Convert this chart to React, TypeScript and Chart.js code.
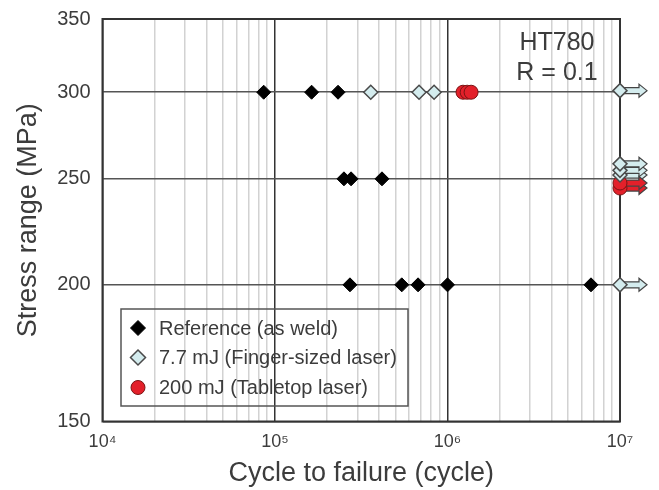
import React, { useEffect, useRef } from "react";
import { Chart, registerables } from "chart.js";

Chart.register(...registerables);

const FONT = "'Liberation Sans', Arial, Helvetica, sans-serif";
const TEXT_COLOR = "#3c3c3c";

// ---- axis ticks ----
const Y_TICKS = [150, 200, 250, 300, 350];
const X_DECADES = [1e4, 1e5, 1e6, 1e7];
const X_DECADE_LABELS = ["10⁴", "10⁵", "10⁶", "10⁷"];
const RUNOUT_LIMIT = 1e7;

// ---- series ----
const seriesLabels = [
  "Reference (as weld)",
  "7.7 mJ (Finger-sized laser)",
  "200 mJ (Tabletop laser)",
];

const refCycles = [8.6e4, 1.63e5, 2.32e5, 2.51e5, 2.76e5, 4.17e5, 2.72e5, 5.43e5, 6.75e5, 1.0e6, 6.79e6];
const refStress = [300, 300, 300, 250, 250, 250, 200, 200, 200, 200, 200];

const fingerCycles = [3.59e5, 6.84e5, 8.36e5, 1e7, 1e7, 1e7, 1e7, 1e7];
const fingerStress = [300, 300, 300, 301, 252, 254.5, 258, 200];

const tableCycles = [1.23e6, 1.3e6, 1.37e6, 1e7, 1e7];
const tableStress = [300, 300, 300, 245.2, 247.8];

const annotationLines = ["HT780", "R = 0.1"];

const toPoints = (xs: number[], ys: number[]) => xs.map((x, i) => ({ x, y: ys[i] }));

const isDecade = (v: number) => {
  const l = Math.log10(v);
  return Math.abs(l - Math.round(l)) < 1e-9;
};

function drawArrow(ctx: CanvasRenderingContext2D, x: number, y: number, fill: string) {
  ctx.beginPath();
  ctx.moveTo(x, y - 3);
  ctx.lineTo(x + 19, y - 3);
  ctx.lineTo(x + 19, y - 6.5);
  ctx.lineTo(x + 27, y);
  ctx.lineTo(x + 19, y + 6.5);
  ctx.lineTo(x + 19, y + 3);
  ctx.lineTo(x, y + 3);
  ctx.closePath();
  ctx.fillStyle = fill;
  ctx.fill();
  ctx.strokeStyle = "#444";
  ctx.lineWidth = 1.2;
  ctx.stroke();
}

function drawMarker(ctx: CanvasRenderingContext2D, style: string, x: number, y: number, r: number, fill: string, stroke: string, lw: number) {
  ctx.beginPath();
  if (style === "circle") {
    ctx.arc(x, y, r, 0, Math.PI * 2);
  } else {
    ctx.moveTo(x, y - r);
    ctx.lineTo(x + r, y);
    ctx.lineTo(x, y + r);
    ctx.lineTo(x - r, y);
    ctx.closePath();
  }
  ctx.fillStyle = fill;
  ctx.fill();
  ctx.strokeStyle = stroke;
  ctx.lineWidth = lw;
  ctx.stroke();
}

const frameArrowsPlugin = {
  id: "frameArrows",
  beforeDatasetsDraw(chart: any) {
    const { ctx, chartArea: a } = chart;
    ctx.save();
    chart.data.datasets.forEach((ds: any, i: number) => {
      const meta = chart.getDatasetMeta(i);
      meta.data.forEach((el: any, j: number) => {
        if (ds.data[j].x >= RUNOUT_LIMIT) drawArrow(ctx, el.x, el.y, ds.backgroundColor);
      });
    });
    ctx.strokeStyle = "#333";
    ctx.lineWidth = 2;
    ctx.strokeRect(a.left, a.top, a.right - a.left, a.bottom - a.top);
    ctx.restore();
  },
};

const legendAnnotationPlugin = {
  id: "legendAnnotation",
  afterDatasetsDraw(chart: any) {
    const { ctx, chartArea: a } = chart;
    ctx.save();
    // legend box
    const left = a.left + 18.5;
    const top = a.bottom - 112.5;
    const w = 287;
    const h = 97;
    ctx.strokeStyle = "#555";
    ctx.lineWidth = 1.5;
    ctx.strokeRect(left, top, w, h);
    const rows = [19, 48.5, 78.5];
    ctx.font = `20px ${FONT}`;
    ctx.textBaseline = "middle";
    ctx.textAlign = "left";
    chart.data.datasets.forEach((ds: any, i: number) => {
      const y = top + rows[i];
      drawMarker(ctx, ds.pointStyle, left + 17, y, ds.pointStyle === "circle" ? ds.pointRadius : ds.pointRadius + 0.5, ds.backgroundColor, ds.borderColor, ds.borderWidth);
      ctx.fillStyle = TEXT_COLOR;
      ctx.fillText(ds.label, left + 38, y + 1);
    });
    // annotation
    ctx.font = `25px ${FONT}`;
    ctx.textAlign = "center";
    ctx.fillStyle = TEXT_COLOR;
    ctx.fillText(annotationLines[0], a.right - 63, a.top + 24);
    ctx.fillText(annotationLines[1], a.right - 63, a.top + 54);
    ctx.restore();
  },
};

export default function App() {
  const ref = useRef<HTMLCanvasElement>(null);

  useEffect(() => {
    document.body.style.margin = "0";
    const chart = new Chart(ref.current as HTMLCanvasElement, {
      type: "scatter",
      data: {
        datasets: [
          {
            label: seriesLabels[0],
            data: toPoints(refCycles, refStress),
            pointStyle: "rectRot",
            pointRadius: 7,
            backgroundColor: "#000000",
            borderColor: "#000000",
            borderWidth: 1,
            clip: false,
          },
          {
            label: seriesLabels[1],
            data: toPoints(fingerCycles, fingerStress),
            pointStyle: "rectRot",
            pointRadius: 7,
            backgroundColor: "#d4ecee",
            borderColor: "#4a4a4a",
            borderWidth: 1.5,
            clip: false,
          },
          {
            label: seriesLabels[2],
            data: toPoints(tableCycles, tableStress),
            pointStyle: "circle",
            pointRadius: 7,
            backgroundColor: "#e3202a",
            borderColor: "#7a1414",
            borderWidth: 1,
            clip: false,
          },
        ] as any,
      },
      options: {
        responsive: false,
        animation: false,
        events: [],
        layout: { padding: { top: 19, right: 39, left: 0, bottom: 0 } },
        plugins: { legend: { display: false }, tooltip: { enabled: false } },
        scales: {
          x: {
            type: "logarithmic",
            min: 1e4,
            max: 1e7,
            afterBuildTicks(scale: any) {
              const t: { value: number }[] = [];
              for (let e = 4; e < 7; e++) for (let m = 1; m < 10; m++) t.push({ value: m * Math.pow(10, e) });
              t.push({ value: 1e7 });
              scale.ticks = t;
            },
            afterFit(scale: any) {
              scale.height = 68.5;
              scale.paddingLeft = 0;
              scale.paddingRight = 0;
            },
            ticks: {
              autoSkip: false,
              maxRotation: 0,
              minRotation: 0,
              padding: 10,
              color: TEXT_COLOR,
              font: { size: 18, family: FONT },
              callback: (v: any) => {
                const i = X_DECADES.indexOf(Number(v));
                return i >= 0 ? X_DECADE_LABELS[i] : "";
              },
            },
            grid: {
              drawTicks: false,
              color: (c: any) => (c.tick && isDecade(c.tick.value) ? "#333" : "#d2d2d2"),
              lineWidth: 1.5,
            },
            border: { display: false },
            title: {
              display: true,
              text: "Cycle to failure (cycle)",
              color: TEXT_COLOR,
              font: { size: 27, family: FONT },
              padding: { top: 0, bottom: 0 },
            },
          },
          y: {
            type: "logarithmic",
            min: 150,
            max: 350,
            afterBuildTicks(scale: any) {
              scale.ticks = Y_TICKS.map((v) => ({ value: v }));
            },
            afterFit(scale: any) {
              scale.width = 102.5;
              scale.paddingTop = 0;
              scale.paddingBottom = 0;
            },
            ticks: {
              padding: 12,
              color: TEXT_COLOR,
              font: { size: 20, family: FONT },
              callback: (v: any) => String(v),
            },
            grid: { drawTicks: false, color: "#555", lineWidth: 1.5 },
            border: { display: false },
            title: {
              display: true,
              text: "Stress range (MPa)",
              color: TEXT_COLOR,
              font: { size: 27, family: FONT },
              padding: { top: 12, bottom: 0 },
            },
          },
        },
      } as any,
      plugins: [frameArrowsPlugin, legendAnnotationPlugin],
    });
    return () => chart.destroy();
  }, []);

  return (
    <div style={{ width: 659, height: 490 }}>
      <canvas ref={ref} width={659} height={490} style={{ display: "block" }} />
    </div>
  );
}
